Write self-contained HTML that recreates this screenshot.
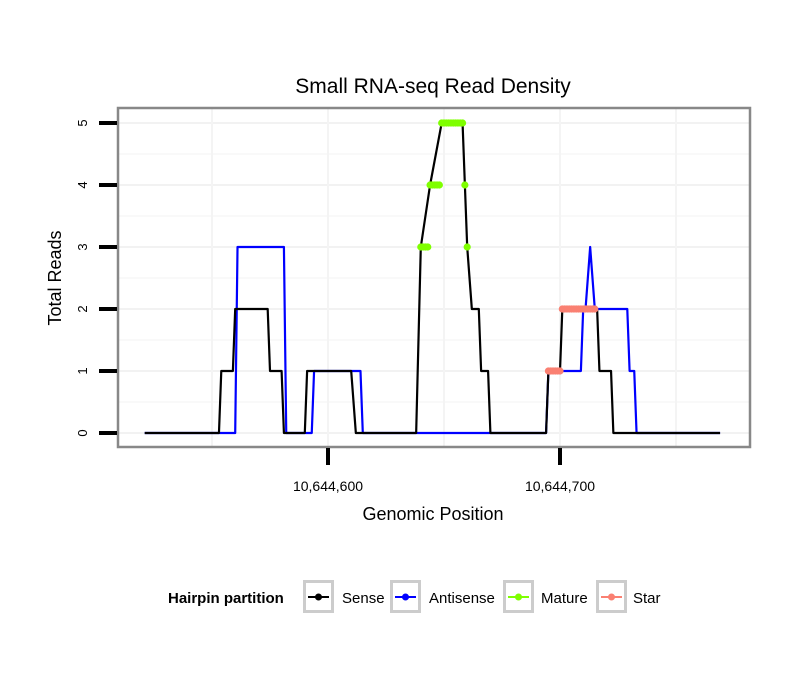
<!DOCTYPE html>
<html><head><meta charset="utf-8"><style>
body{margin:0;background:#fff}
svg{display:block;font-family:"Liberation Sans",sans-serif}
</style></head><body>
<svg id="chart" width="810" height="690">
<rect x="0" y="0" width="810" height="690" fill="#fff"/>
<text x="433" y="93" font-size="21" text-anchor="middle" fill="#000">Small RNA-seq Read Density</text>
<g id="grid"></g>
<g id="series"></g>
<rect x="118" y="108" width="632" height="339" fill="none" stroke="#888" stroke-width="2.5"/>
<g id="axes"></g>
<text x="433" y="520" font-size="18" text-anchor="middle">Genomic Position</text>
<text transform="translate(61,278) rotate(-90)" font-size="18" text-anchor="middle">Total Reads</text>
<g>
<text x="168" y="603" font-size="15" font-weight="bold">Hairpin partition</text>
<g>
<rect x="304.5" y="581.5" width="28" height="30" fill="#fff" stroke="#ccc" stroke-width="3"/>
<line x1="308" y1="597" x2="329" y2="597" stroke="#000" stroke-width="2"/><circle cx="318.5" cy="597" r="3.5" fill="#000"/>
<text x="342" y="603" font-size="15">Sense</text></g>
<g>
<rect x="391.5" y="581.5" width="28" height="30" fill="#fff" stroke="#ccc" stroke-width="3"/>
<line x1="395" y1="597" x2="416" y2="597" stroke="#00f" stroke-width="2"/><circle cx="405.5" cy="597" r="3.5" fill="#00f"/>
<text x="429" y="603" font-size="15">Antisense</text></g>
<g>
<rect x="504.5" y="581.5" width="28" height="30" fill="#fff" stroke="#ccc" stroke-width="3"/>
<line x1="508" y1="597" x2="529" y2="597" stroke="#7fff00" stroke-width="2"/><circle cx="518.5" cy="597" r="3.5" fill="#7fff00"/>
<text x="541" y="603" font-size="15">Mature</text></g>
<g>
<rect x="597.5" y="581.5" width="28" height="30" fill="#fff" stroke="#ccc" stroke-width="3"/>
<line x1="601" y1="597" x2="622" y2="597" stroke="#fa8072" stroke-width="2"/><circle cx="611.5" cy="597" r="3.5" fill="#fa8072"/>
<text x="633" y="603" font-size="15">Star</text></g>
</g>
</svg>
<script>
// positions are offsets from 10,644,600
const senseX = [-79,-47,-46,-41,-40,-26,-25,-20,-19,-10,-9,10,12,38,40,44,49,58,59,60,62,65,66,69,70,94,95,100,101,116,117,122,123,169];
const senseY = [0,0,1,1,2,2,1,1,0,0,1,1,0,0,3,4,5,5,4,3,2,2,1,1,0,0,1,1,2,2,1,1,0,0];
const antiX = [-79,-40,-39,-19,-18,-7,-6,14,15,94,95,109,110,111,113,115,129,130,132,133,169];
const antiY = [0,0,3,3,0,0,1,1,0,0,1,1,2,2,3,2,2,1,1,0,0];
const matureX = [40,41,42,43,44,45,46,47,48,49,50,51,52,53,54,55,56,57,58,59,60];
const matureY = [3,3,3,3,4,4,4,4,4,5,5,5,5,5,5,5,5,5,5,4,3];
const starX = [95,96,97,98,99,100,101,102,103,104,105,106,107,108,109,110,111,112,113,114,115];
const starY = [1,1,1,1,1,1,2,2,2,2,2,2,2,2,2,2,2,2,2,2,2];
const yTicks = [0,1,2,3,4,5];
const xTicks = [0,100];
const xTickLabels = ["10,644,600","10,644,700"];
const xMinor = [-50,50,150];

const NS = "http://www.w3.org/2000/svg";
function sx(v){return 328 + v*2.32;}
function sy(v){return 433 - v*62;}
function mk(tag, attrs, parent){const e=document.createElementNS(NS,tag);for(const k in attrs)e.setAttribute(k,attrs[k]);parent.appendChild(e);return e;}
const grid=document.getElementById('grid'), series=document.getElementById('series'), axes=document.getElementById('axes');
for(let v=0; v<=5; v+=0.5){
  const l=mk('line',{x1:119,x2:749,y1:sy(v),y2:sy(v),stroke:v%1===0?'#f2f2f2':'#f7f7f7','stroke-width':v%1===0?2:1.5},grid);
  
  
}
xTicks.concat(xMinor).forEach(v=>{
  const l=mk('line',{x1:sx(v),x2:sx(v),y1:109,y2:446,stroke:'#f4f4f4','stroke-width':2},grid);
  
  
});
function line(xs,ys,color,name){
  const p=mk('polyline',{points:xs.map((x,i)=>sx(x)+','+sy(ys[i])).join(' '),fill:'none',stroke:color,'stroke-width':2.2,'stroke-linejoin':'round'},series);
  
  
}
function pts(xs,ys,color,name){
  xs.forEach((x,i)=>{
    const c=mk('circle',{cx:sx(x),cy:sy(ys[i]),r:3.6,fill:color},series);
    
    
  });
}
line(antiX,antiY,'#0000ff','antisense-line');
line(senseX,senseY,'#000000','sense-line');
pts(matureX,matureY,'#7fff00','mature-point');
pts(starX,starY,'#fa8072','star-point');
yTicks.forEach(v=>{
  const t=mk('line',{x1:99,x2:117,y1:sy(v),y2:sy(v),stroke:'#000','stroke-width':4},axes);
  
  
  const tx=mk('text',{transform:'translate(87,'+sy(v)+') rotate(-90)','font-size':13,'text-anchor':'middle'},axes);
  tx.textContent=v;
  
  
});
xTicks.forEach((v,i)=>{
  const t=mk('line',{x1:sx(v),x2:sx(v),y1:448,y2:465,stroke:'#000','stroke-width':4},axes);
  
  
  const tx=mk('text',{x:sx(v),y:491,'font-size':14,'text-anchor':'middle'},axes);
  tx.textContent=xTickLabels[i];
  
  
});
</script>
</body></html>
